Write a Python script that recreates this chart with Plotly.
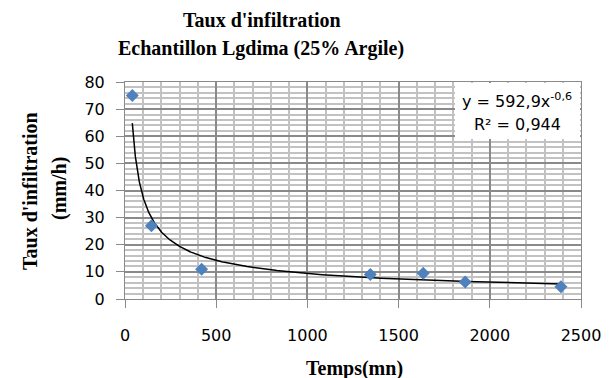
import numpy as np
import plotly.graph_objects as go

# Measured infiltration rate vs. elapsed time
temps_mn = [40, 145, 420, 1345, 1635, 1865, 2390]
taux_mm_h = [75, 27, 11, 9, 9.5, 6.3, 4.5]

# Power trendline coefficients (y = a * x^b) shown in the label
coef_a = 592.9
coef_b = -0.6
r_carre = "0,944"

x_range = [0, 2500]
y_range = [0, 80]

# plot area in pixels
L, R, T, B = 125, 581, 82, 299
W, H = 614, 378


def px(xp):
    return (xp - L) / (R - L)


def py(yp):
    return (B - yp) / (B - T)


x_fit = np.geomspace(min(temps_mn), max(temps_mn), 300)
y_fit = coef_a * x_fit ** coef_b

fig = go.Figure()
fig.add_trace(go.Scatter(
    x=x_fit, y=y_fit, mode="lines",
    line=dict(color="black", width=1.5), hoverinfo="skip", showlegend=False,
))
fig.add_trace(go.Scatter(
    x=temps_mn, y=taux_mm_h, mode="markers",
    marker=dict(symbol="diamond", size=10, color="#4F81BD", line=dict(width=0)),
    showlegend=False,
))

major = "#8A8A8A"
minor = "#C2C2C2"
tickfont = dict(family="DejaVu Sans", size=16, color="black")
serif = dict(family="Liberation Serif", size=20, color="black")

fig.update_xaxes(
    range=x_range, tickmode="linear", tick0=0, dtick=500,
    showgrid=True, gridcolor=major, gridwidth=1.5,
    minor=dict(tickmode="linear", tick0=0, dtick=100, showgrid=True,
               gridcolor=minor, gridwidth=1.5, ticks=""),
    showline=True, linecolor=major, linewidth=1, mirror=True,
    ticks="outside", ticklen=8, tickcolor=major, tickwidth=1,
    tickfont=tickfont, ticklabelstandoff=14, zeroline=False,
)
fig.update_yaxes(
    range=y_range, tickmode="linear", tick0=0, dtick=10,
    showgrid=True, gridcolor=major, gridwidth=1.5,
    minor=dict(tickmode="linear", tick0=0, dtick=2, showgrid=True,
               gridcolor=minor, gridwidth=1.5, ticks=""),
    showline=True, linecolor=major, linewidth=1, mirror=True,
    ticks="outside", ticklen=8, tickcolor=major, tickwidth=1,
    tickfont=tickfont, ticklabelstandoff=8, zeroline=False,
)

# equation box
fig.add_shape(type="rect", xref="paper", yref="paper",
              x0=px(455), x1=px(580), y0=py(139), y1=py(83),
              fillcolor="white", line=dict(width=0), layer="above")

ann = []
ann.append(dict(text="<b>Taux d'infiltration</b>", x=px(262), y=py(20), font=serif))
ann.append(dict(text="<b>Echantillon Lgdima (25% Argile)</b>", x=px(261), y=py(48), font=serif))
ann.append(dict(text="<b>Taux d'infiltration</b>", x=px(30), y=py(191), font=serif, textangle=-90))
ann.append(dict(text="<b>(mm/h)</b>", x=px(59), y=py(189), font=serif, textangle=-90))
ann.append(dict(text="<b>Temps(mn)</b>", x=px(354), y=py(368), font=serif))
ann.append(dict(text=f"y = {coef_a:.1f}".replace(".", ",") + "x<sup>" + f"{coef_b:.1f}".replace(".", ",") + "</sup>",
                x=px(517), y=py(101), font=dict(family="DejaVu Sans", size=16, color="black")))
ann.append(dict(text=f"R² = {r_carre}", x=px(517), y=py(124),
                font=dict(family="DejaVu Sans", size=16, color="black")))
for a in ann:
    a.update(xref="paper", yref="paper", showarrow=False, xanchor="center", yanchor="middle")

fig.update_layout(
    width=W, height=H,
    margin=dict(l=L, r=W - R, t=T, b=H - B),
    paper_bgcolor="white", plot_bgcolor="white",
    annotations=ann,
)

fig.write_html("out.html")
